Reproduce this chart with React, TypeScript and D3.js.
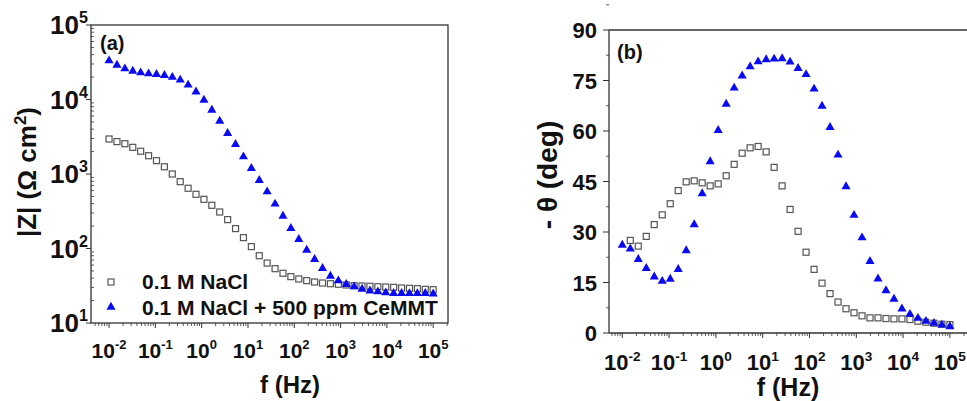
import React from 'react';
import * as d3 from 'd3';

// frequencies (Hz), 42 points, high density from 10 mHz to 100 kHz
const freq = [
  0.01, 0.01482, 0.02196, 0.03253, 0.04819, 0.07142, 0.1058, 0.1567, 0.2322, 0.344,
  0.5097, 0.7552, 1.119, 1.658, 2.456, 3.639, 5.392, 7.989, 11.84, 17.54,
  25.98, 38.49, 57.03, 84.5, 125.2, 185.5, 274.8, 407.2, 603.3, 893.9,
  1324, 1962, 2907, 4307, 6381, 9454, 14007, 20753, 30749, 45558, 67500, 100000,
];

// |Z| (ohm cm2)
const zNaCl = [
  2950, 2720, 2550, 2280, 2020, 1760, 1510, 1250, 1000, 789,
  643, 534, 457, 380, 309, 244, 185, 140, 106, 80,
  63.8, 53.6, 46.5, 41.9, 39, 37, 35.5, 34.4, 33.7, 33.1,
  32.4, 31.7, 31.4, 31.1, 30.7, 30.4, 30.1, 29.5, 29.2, 28.9, 28.3, 28,
];
const zCe = [
  33200, 29000, 25900, 24100, 22900, 22200, 21800, 21100, 19900, 18300,
  15700, 12700, 9840, 7230, 5140, 3520, 2500, 1710, 1190, 823,
  579, 396, 273, 187, 133, 95.4, 71.6, 54.2, 42.7, 37,
  33.1, 30.7, 28.6, 27.1, 26.3, 25.5, 25, 25, 24.9, 24.9, 25, 24.7,
];

// -phase (deg)
const phNaCl = [
  null, 27.5, 25.8, 28.7, 32.2, 35.1, 38.4, 42.3, 44.9, 45.2,
  44.6, 43.7, 44.3, 46.7, 50.1, 53.4, 55, 55.4, 53.8, 49.2,
  43.7, 36.7, 30.2, 24, 18.9, 14.8, 11.7, 9.2, 7.2, 6,
  5.1, 4.5, 4.5, 4.3, 4.2, 4.2, 4, 3.5, 3.2, 2.9, 2.6, 2.5,
];
const phCe = [
  26.1, 25, 21.9, 19.2, 16.7, 15.4, 16, 18.9, 24.5, 32.2,
  41.4, 50.9, 60.2, 68, 72.8, 76.4, 79.1, 80.6, 81.2, 81.4,
  81.5, 80.5, 78.6, 76.8, 72.5, 67.4, 61.1, 52.9, 43.5, 35,
  28.3, 21.3, 16.1, 12.6, 10.1, 7.2, 5.6, 4.4, 3.5, 2.9, 2.4, 1.9,
];

const xTickExp = [-2, -1, 0, 1, 2, 3, 4, 5];
const zTickExp = [1, 2, 3, 4, 5];
const phTicks = [0, 15, 30, 45, 60, 75, 90];
const legendNames = ['0.1 M NaCl', '0.1 M NaCl + 500 ppm CeMMT'];

const font = '"Liberation Sans", Arial, sans-serif';
const axisCol = '#333';
const sqCol = '#555';
const blue = '#0a0af0';

const triPath = d3.symbol(d3.symbolTriangle, 36)()!;

function minorLog(scale: d3.ScaleLogarithmic<number, number>) {
  const [a, b] = scale.domain();
  const out: number[] = [];
  for (let e = Math.floor(Math.log10(a)); e <= Math.ceil(Math.log10(b)); e++) {
    for (let m = 2; m <= 9; m++) {
      const v = m * Math.pow(10, e);
      if (v >= a && v <= b) out.push(v);
    }
  }
  return out;
}

function Pow({ x, y, e, anchor, size }: { x: number; y: number; e: number; anchor: string; size: number }) {
  return (
    <text x={x} y={y} textAnchor={anchor} fontFamily={font} fontWeight="bold" fontSize={size} fill="#111">
      10<tspan dy={-size * 0.42} fontSize={size * 0.62}>{e}</tspan>
    </text>
  );
}

function Markers({ ys, sx, sy }: any) {
  return (
    <g>
      {freq.map((f, i) =>
        ys[0][i] == null ? null : (
          <rect key={'s' + i} x={sx(f) - 3} y={sy(ys[0][i]) - 3} width={6} height={6}
            fill="white" stroke={sqCol} strokeWidth={1.2} />
        )
      )}
      {freq.map((f, i) => (
        <path key={'t' + i} d={triPath} transform={`translate(${sx(f)},${sy(ys[1][i])})`} fill={blue} />
      ))}
    </g>
  );
}

export default function App() {
  // panel (a)
  const xA = d3.scaleLog().domain([Math.pow(10, -2.39), Math.pow(10, 5.32)]).range([91, 448]);
  const yA = d3.scaleLog().domain([10, 1e5]).range([323, 25]);
  // panel (b)
  const xB = d3.scaleLog().domain([Math.pow(10, -2.284), Math.pow(10, 5.4)]).range([609, 609 + 7.684 * 46.8]);
  const yB = d3.scaleLinear().domain([0, 90]).range([333, 30]);

  const [ax0, ax1] = xA.range();
  const [ay0, ay1] = yA.range();
  const [bx0, bx1] = xB.range();
  const [by0, by1] = yB.range();

  return (
    <svg width={967} height={401} style={{ position: 'absolute', left: 0, top: 0, background: 'white' }}>
      {/* ---------- (a) ---------- */}
      <rect x={ax0} y={ay1} width={ax1 - ax0} height={ay0 - ay1} fill="none" stroke={axisCol} strokeWidth={1.3} />
      {xTickExp.map((e) => (
        <g key={'xa' + e}>
          <line x1={xA(Math.pow(10, e))} x2={xA(Math.pow(10, e))} y1={ay0} y2={ay0 + 5} stroke={axisCol} />
          <Pow x={xA(Math.pow(10, e))} y={358} e={e} anchor="middle" size={21} />
        </g>
      ))}
      {minorLog(xA).map((v, i) => (
        <line key={'xam' + i} x1={xA(v)} x2={xA(v)} y1={ay0} y2={ay0 + 3} stroke={axisCol} strokeWidth={0.8} />
      ))}
      {zTickExp.map((e) => (
        <g key={'ya' + e}>
          <line x1={ax0 - 5} x2={ax0} y1={yA(Math.pow(10, e))} y2={yA(Math.pow(10, e))} stroke={axisCol} />
          <Pow x={88} y={yA(Math.pow(10, e)) + 9} e={e} anchor="end" size={26} />
        </g>
      ))}
      {minorLog(yA).map((v, i) => (
        <line key={'yam' + i} x1={ax0} x2={ax0 + 3} y1={yA(v)} y2={yA(v)} stroke={axisCol} strokeWidth={0.8} />
      ))}
      <Markers ys={[zNaCl, zCe]} sx={xA} sy={yA} />
      <text x={100} y={50} fontFamily={font} fontWeight="bold" fontSize={20} fill="#111">(a)</text>
      <text x={290} y={393} textAnchor="middle" fontFamily={font} fontWeight="bold" fontSize={24} fill="#111">f (Hz)</text>
      <text transform={`translate(36,172) rotate(-90)`} textAnchor="middle" fontFamily={font} fontWeight="bold" fontSize={26} fill="#111">
        |Z| (Ω cm<tspan dy={-10} fontSize={17}>2</tspan><tspan dy={10}>)</tspan>
      </text>
      {/* legend */}
      <rect x={108} y={279} width={6} height={6} fill="white" stroke={sqCol} strokeWidth={1.2} />
      <path d={triPath} transform="translate(111,307)" fill={blue} />
      <text x={142} y={289} fontFamily={font} fontWeight="bold" fontSize={21} fill="#111">{legendNames[0]}</text>
      <text x={142} y={315} fontFamily={font} fontWeight="bold" fontSize={21} fill="#111">{legendNames[1]}</text>

      {/* ---------- (b) ---------- */}
      <line x1={bx0} x2={bx1} y1={by1} y2={by1} stroke={axisCol} strokeWidth={1.3} />
      <line x1={bx0} x2={bx1} y1={by0} y2={by0} stroke={axisCol} strokeWidth={1.3} />
      <line x1={bx0} x2={bx0} y1={by0} y2={by1} stroke={axisCol} strokeWidth={1.3} />
      {xTickExp.map((e) => (
        <g key={'xb' + e}>
          <line x1={xB(Math.pow(10, e))} x2={xB(Math.pow(10, e))} y1={by0} y2={by0 + 5} stroke={axisCol} />
          <Pow x={xB(Math.pow(10, e))} y={370} e={e} anchor="middle" size={22} />
        </g>
      ))}
      {minorLog(xB).map((v, i) => (
        <line key={'xbm' + i} x1={xB(v)} x2={xB(v)} y1={by0} y2={by0 + 3} stroke={axisCol} strokeWidth={0.8} />
      ))}
      {phTicks.map((t) => (
        <g key={'yb' + t}>
          <line x1={bx0 - 6} x2={bx0} y1={yB(t)} y2={yB(t)} stroke={axisCol} />
          <line x1={bx0 - 3} x2={bx0} y1={yB(t + 7.5)} y2={yB(t + 7.5)} stroke={axisCol} strokeWidth={0.8} />
          <text x={597} y={yB(t) + 8} textAnchor="end" fontFamily={font} fontWeight="bold" fontSize={22} fill="#111">{t}</text>
        </g>
      ))}
      <Markers ys={[phNaCl, phCe]} sx={xB} sy={yB} />
      <text x={617} y={59} fontFamily={font} fontWeight="bold" fontSize={20} fill="#111">(b)</text>
      <text x={788} y={396} textAnchor="middle" fontFamily={font} fontWeight="bold" fontSize={25} fill="#111">f (Hz)</text>
      <text transform={`translate(557,175) rotate(-90)`} textAnchor="middle" fontFamily={font} fontWeight="bold" fontSize={28} fill="#111">
        -  θ (deg)
      </text>
    </svg>
  );
}
